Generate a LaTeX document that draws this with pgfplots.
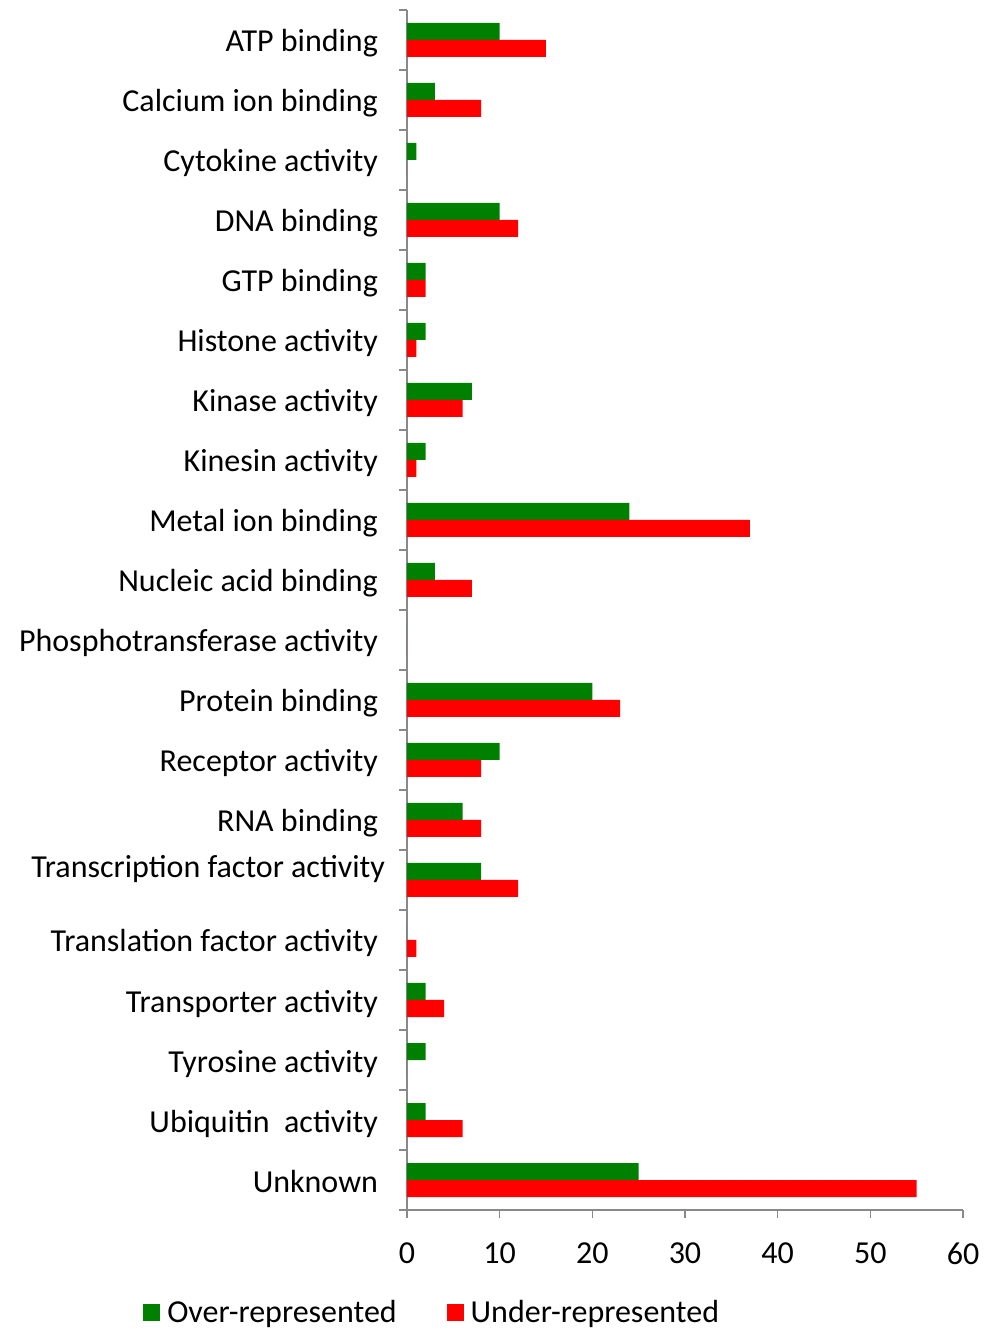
\documentclass[border=0pt]{standalone}
\usepackage{fontspec}
\setmainfont{Carlito}
\usepackage{pgfplots}
\pgfplotsset{compat=1.18}
\definecolor{ggreen}{RGB}{0,128,0}
\definecolor{rred}{RGB}{255,0,0}
\definecolor{axgray}{RGB}{137,137,137}
\begin{document}
\begin{tikzpicture}
\begin{axis}[
  scale only axis,
  width=278pt, height=600pt,
  xmin=0, xmax=60,
  ymin=-0.5, ymax=19.5,
  xbar, bar width=8.5pt,
  axis x line*=bottom,
  axis y line*=left,
  axis line style={axgray, line width=0.6pt},
  xtick={0,10,...,60},
  ytick={0,...,19},
  minor ytick={-0.5,0.5,...,19.5},
  tick align=outside,
  major tick length=4pt,
  minor tick length=3.75pt,
  xtick style={axgray, line width=0.6pt},
  major y tick style={draw=none},
  minor y tick style={axgray, line width=0.6pt},
  font=\fontsize{16pt}{19pt}\selectfont,
  /pgf/number format/assume math mode=true,
  xticklabel style={font=\fontsize{16pt}{19pt}\selectfont, yshift=-9pt},
  yticklabel style={font=\fontsize{16pt}{19pt}\selectfont, text height=14pt, text depth=2pt, xshift=-7pt},
  yticklabels={Unknown, Ubiquitin~ activity, Tyrosine activity, Transporter activity, Translation factor activity, {\raisebox{7pt}{Transcription factor activity}\hspace*{-3.5pt}}, RNA binding, Receptor activity, Protein binding, Phosphotransferase activity, Nucleic acid binding, Metal ion binding, Kinesin activity, Kinase activity, Histone activity, GTP binding, DNA binding, Cytokine activity, Calcium ion binding, ATP binding},
  legend columns=2,
  legend style={draw=none, at={(0.047,-0.0855)}, anchor=center, font=\fontsize{16pt}{19pt}\selectfont, /tikz/every even column/.append style={column sep=23pt}},
  legend image code/.code={\fill[#1] (0pt,-4.25pt) rectangle (8.5pt,4.25pt); \path (10pt,0pt);},
]
\addplot[fill=ggreen, draw=none, bar shift=4.25pt] coordinates {
(25,0) (2,1) (2,2) (2,3) (0,4) (8,5) (6,6) (10,7) (20,8) (0,9)
(3,10) (24,11) (2,12) (7,13) (2,14) (2,15) (10,16) (1,17) (3,18) (10,19)};
\addlegendentry{Over-represented}
\addplot[fill=rred, draw=none, bar shift=-4.25pt] coordinates {
(55,0) (6,1) (0,2) (4,3) (1,4) (12,5) (8,6) (8,7) (23,8) (0,9)
(7,10) (37,11) (1,12) (6,13) (1,14) (2,15) (12,16) (0,17) (8,18) (15,19)};
\addlegendentry{Under-represented}
\end{axis}
\pgfresetboundingbox
\path[use as bounding box] (-203.5pt,-59.5pt) rectangle (290pt,605pt);
\end{tikzpicture}
\end{document}
